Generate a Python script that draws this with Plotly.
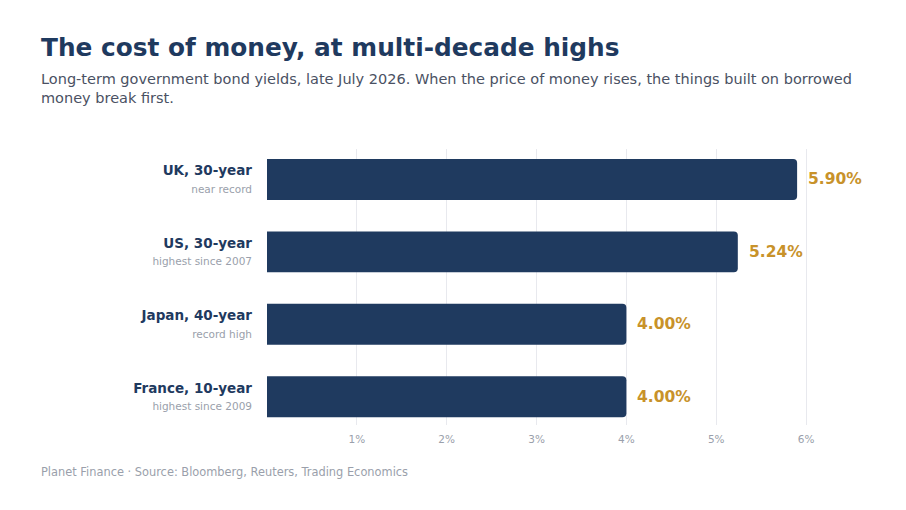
# -*- coding: utf-8 -*-
# what : long-term bond yields, horizontal bars
import plotly.graph_objects as go

#---------------
# data
names = ["UK, 30-year", "US, 30-year", "Japan, 40-year", "France, 10-year"]
notes = ["near record", "highest since 2007", "record high", "highest since 2009"]
yields = [5.90, 5.24, 4.00, 4.00]
x_ticks = [1, 2, 3, 4, 5, 6]
x_ticklabels = ["1%", "2%", "3%", "4%", "5%", "6%"]

NAVY = "#1f3a5f"
GOLD = "#c8922a"
GREY = "#9a9fab"
FONT = "DejaVu Sans"

# page has an 8px body margin, so work in figure pixels = shot pixels - 8
OFF = 8
W, H = 906, 510
L, R, T, B = 267 - OFF, 46 + OFF, 149 - OFF, 85 + OFF


def px_x(p):
  return (p - OFF - L) / (W - L - R)


def px_y(p):
  return (H - B - (p - OFF)) / (H - T - B)


#---------------
def mk_fig():
  ticktext = [
    f"<b>{n}</b><br><span style='font-size:10.5px;color:{GREY}'>{s}</span>"
    for n, s in zip(names, notes)
  ]
  fig = go.Figure(go.Bar(
    x=yields, y=names, orientation="h",
    marker=dict(color=NAVY, line=dict(width=0)),
    width=0.565, hoverinfo="skip",
  ))

  for n, v in zip(names, yields):
    fig.add_annotation(x=v, y=n, text=f"<b>{v:.2f}%</b>", showarrow=False,
                       xanchor="left", xshift=9,
                       font=dict(family=FONT, size=15.5, color=GOLD))

  fig.add_annotation(xref="paper", yref="paper", x=px_x(39), y=px_y(48),
                     xanchor="left", yanchor="middle", showarrow=False,
                     text="<b>The cost of money, at multi-decade highs</b>",
                     font=dict(family=FONT, size=24.8, color=NAVY))
  fig.add_annotation(xref="paper", yref="paper", x=px_x(39), y=px_y(69),
                     xanchor="left", yanchor="top", showarrow=False, align="left",
                     text="Long-term government bond yields, late July 2026. When the price of money rises, the things built on borrowed<br>money break first.",
                     font=dict(family=FONT, size=14.5, color="#4a5163"))
  fig.add_annotation(xref="paper", yref="paper", x=px_x(39), y=px_y(472),
                     xanchor="left", yanchor="middle", showarrow=False,
                     text="Planet Finance · Source: Bloomberg, Reuters, Trading Economics",
                     font=dict(family=FONT, size=11.4, color=GREY))

  fig.update_layout(
    width=W, height=H,
    margin=dict(l=L, r=R, t=T, b=B),
    paper_bgcolor="white", plot_bgcolor="white",
    font=dict(family=FONT),
    showlegend=False,
    barcornerradius=4,
    xaxis=dict(range=[0, 6.6], tickvals=x_ticks, ticktext=x_ticklabels,
               showgrid=True, gridcolor="#e8e9ee", gridwidth=1,
               zeroline=False, showline=False, ticks="",
               ticklabelstandoff=6,
               tickfont=dict(family=FONT, size=10.5, color=GREY)),
    yaxis=dict(categoryorder="array", categoryarray=names,
               range=[3.39, -0.42], tickvals=names, ticktext=ticktext,
               showgrid=False, zeroline=False, showline=False, ticks="",
               ticklabelstandoff=14,
               tickfont=dict(family=FONT, size=13.5, color=NAVY)),
  )
  return fig


if __name__ == "__main__":
  fig = mk_fig()
  fig.write_html("out.html")
